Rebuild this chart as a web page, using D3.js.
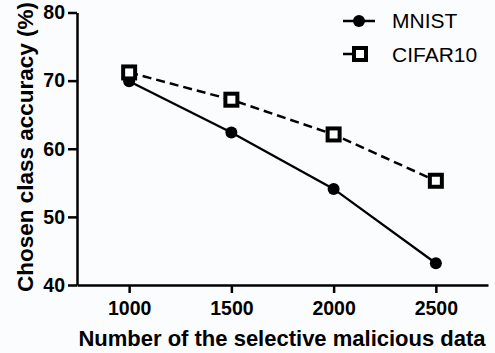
<!DOCTYPE html>
<html>
<head>
<meta charset="utf-8">
<script src="https://cdn.jsdelivr.net/npm/d3@7"></script>
<style>
  html, body { margin: 0; padding: 0; background: #fbfcfe; }
  svg { display: block; }
  text { font-family: "Liberation Sans", Arial, sans-serif; fill: #000; }
</style>
</head>
<body>
<div id="chart"></div>
<script>
const xValues = [1000, 1500, 2000, 2500];
const mnist = [69.9, 62.4, 54.1, 43.2];
const cifar10 = [71.2, 67.2, 62.1, 55.3];
const xTicks = [1000, 1500, 2000, 2500];
const yTicks = [40, 50, 60, 70, 80];
const seriesNames = ["MNIST", "CIFAR10"];

const W = 495, H = 353;
const svg = d3.select("#chart").append("svg").attr("width", W).attr("height", H);
svg.append("rect").attr("width", W).attr("height", H).attr("fill", "#fbfcfe");

const x = d3.scaleLinear().domain([745, 2755]).range([77, 488]);
const y = d3.scaleLinear().domain([40, 80]).range([285, 12.5]);

// axes
const yAxis = svg.append("g").attr("transform", "translate(77,0)")
  .call(d3.axisLeft(y).tickValues(yTicks).tickFormat(d3.format("d")).tickSizeOuter(0).tickSizeInner(9).tickPadding(3));
const xAxis = svg.append("g").attr("transform", "translate(0,285)")
  .call(d3.axisBottom(x).tickValues(xTicks).tickFormat(d3.format("d")).tickSizeOuter(0).tickSizeInner(8).tickPadding(8));
[yAxis, xAxis].forEach(g => {
  g.select(".domain").attr("stroke", "#000").attr("stroke-width", 2.5);
  g.selectAll(".tick line").attr("stroke", "#000").attr("stroke-width", 2.5);
  g.selectAll(".tick text").attr("font-weight", "bold").attr("fill", "#000").attr("font-size", 19.5);
});

// titles
svg.append("text").attr("transform", "translate(33,147) rotate(-90)")
  .attr("text-anchor", "middle").attr("font-size", 22.5).attr("font-weight", "bold")
  .text("Chosen class accuracy (%)");
svg.append("text").attr("x", 282).attr("y", 346)
  .attr("text-anchor", "middle").attr("font-size", 22).attr("font-weight", "bold")
  .text("Number of the selective malicious data");

const line = d3.line().x((d, i) => x(xValues[i])).y(d => y(d));

// CIFAR10 dashed
svg.append("path").datum(cifar10).attr("d", line)
  .attr("fill", "none").attr("stroke", "#000").attr("stroke-width", 2.5)
  .attr("stroke-dasharray", "9,5");
// MNIST solid
svg.append("path").datum(mnist).attr("d", line)
  .attr("fill", "none").attr("stroke", "#000").attr("stroke-width", 2.3);

svg.selectAll(".mc").data(mnist).enter().append("circle")
  .attr("cx", (d, i) => x(xValues[i])).attr("cy", d => y(d)).attr("r", 6).attr("fill", "#000");
svg.selectAll(".cs").data(cifar10).enter().append("rect")
  .attr("x", (d, i) => x(xValues[i]) - 6).attr("y", d => y(d) - 6)
  .attr("width", 12).attr("height", 12)
  .attr("fill", "#fff").attr("stroke", "#000").attr("stroke-width", 4);

// legend
const lg = svg.append("g");
lg.append("line").attr("x1", 343).attr("x2", 375).attr("y1", 21).attr("y2", 21)
  .attr("stroke", "#000").attr("stroke-width", 2.5);
lg.append("circle").attr("cx", 359).attr("cy", 21).attr("r", 6).attr("fill", "#000");
lg.append("line").attr("x1", 343).attr("x2", 378).attr("y1", 54).attr("y2", 54)
  .attr("stroke", "#000").attr("stroke-width", 2.5).attr("stroke-dasharray", "10,6,3,30");
lg.append("rect").attr("x", 354).attr("y", 48).attr("width", 12).attr("height", 12)
  .attr("fill", "#fff").attr("stroke", "#000").attr("stroke-width", 4);
lg.selectAll(".lt").data(seriesNames).enter().append("text")
  .attr("x", 392).attr("y", (d, i) => 28 + i * 34)
  .attr("font-size", 21).text(d => d);
</script>
</body>
</html>
